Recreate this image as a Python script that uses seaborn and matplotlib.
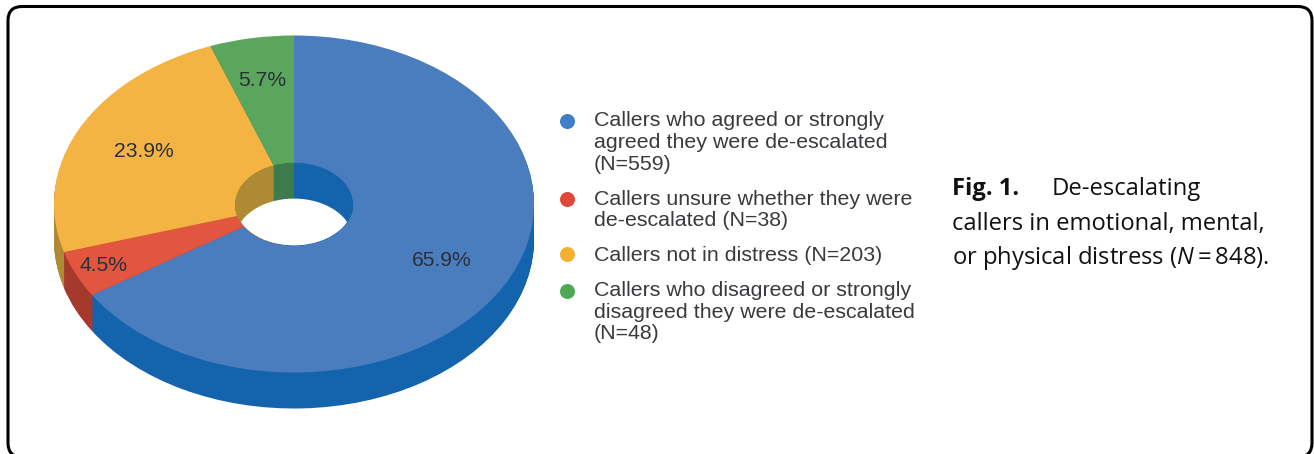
import numpy as np
import matplotlib
matplotlib.use("Agg")
import matplotlib.pyplot as plt
import seaborn as sns
from matplotlib.lines import Line2D
from matplotlib.patches import Circle, FancyBboxPatch
from matplotlib.legend_handler import HandlerLine2D
from matplotlib.transforms import IdentityTransform

# ---- data ----
counts = [559, 38, 203, 48]
labels = [
    "Callers who agreed or strongly\nagreed they were de-escalated\n(N=559)",
    "Callers unsure whether they were\nde-escalated (N=38)",
    "Callers not in distress (N=203)",
    "Callers who disagreed or strongly\ndisagreed they were de-escalated\n(N=48)",
]
top_colors = ["#4a7dbe", "#e2553f", "#f4b443", "#5aa65c"]
side_colors = ["#1463ad", "#a5392b", "#ae8a35", "#3d7a4c"]
legend_colors = ["#3f7fc9", "#e2473d", "#f4b02f", "#4ea956"]
label_radii = [0.70, 0.875, 0.70, 0.745]

# ---- style ----
sns.set_theme(style="white")
plt.rcParams["font.family"] = ["Liberation Sans", "DejaVu Sans"]
plt.rcParams["mathtext.fontset"] = "custom"
plt.rcParams["mathtext.it"] = "Open Sans:italic"
plt.rcParams["mathtext.rm"] = "Open Sans"

W, H = 1314, 454
fig = plt.figure(figsize=(W / 100, H / 100), dpi=100, facecolor="white")
ax = fig.add_axes([0, 0, 1, 1])

# pie geometry in reference pixels
CX, CY, RX, RY, DEPTH, HOLE_RX = 294, 204, 240, 168.5, 36, 59
depth_u = DEPTH / RY
hole_r = HOLE_RX / RX
pie_kw = dict(startangle=90, counterclock=False, wedgeprops=dict(linewidth=0))

# outer rim: layers of the side colour, stacked from the bottom up
for dz in np.linspace(depth_u, 0, DEPTH + 1)[:-1]:
    ax.pie(counts, colors=side_colors, center=(0, -dz), **pie_kw)

# top face
wedges, _, autotexts = ax.pie(
    counts, colors=top_colors, center=(0, 0),
    autopct="%.1f%%", pctdistance=1.0,
    textprops=dict(fontsize=15.2, color="#2b2f3a"), **pie_kw,
)
for t, r in zip(autotexts, label_radii):
    x, y = t.get_position()
    t.set_position((x * r, y * r))

# hole: inner wall stacked downward, bottom opening white, clipped to the top ellipse
hole_clip = Circle((0, 0), hole_r, transform=ax.transData)
for dz in np.linspace(0, depth_u, DEPTH + 1):
    ws, _ = ax.pie(counts, colors=side_colors, center=(0, -dz), radius=hole_r, **pie_kw)
    for w in ws:
        w.set_clip_on(True)
        w.set_clip_path(hole_clip)
floor = Circle((0, -depth_u), hole_r, facecolor="white", edgecolor="none", zorder=5)
ax.add_patch(floor)
floor.set_clip_path(hole_clip)

ax.set_aspect("auto")
ax.set_xlim(-CX / RX, (W - CX) / RX)
ax.set_ylim(-(H - CY) / RY, CY / RY)
ax.axis("off")

# legend
FS = 15.36
LINE_PT = 15.5


class FirstLineHandler(HandlerLine2D):
    def create_artists(self, legend, orig_handle, xdescent, ydescent,
                       width, height, fontsize, trans):
        arts = super().create_artists(legend, orig_handle, xdescent, ydescent,
                                      width, height, fontsize, trans)
        n = orig_handle.get_label().count("\n")
        for a in arts:
            a.set_ydata(np.asarray(a.get_ydata()) + n * LINE_PT / 2)
        return arts


handles = [
    Line2D([], [], marker="o", linestyle="none", color=c, markersize=10.8,
           markeredgewidth=0, label=l)
    for c, l in zip(legend_colors, labels)
]
leg = ax.legend(
    handles=handles, loc="upper left", frameon=False,
    bbox_to_anchor=(555 / W, 1 - 111.5 / H), bbox_transform=fig.transFigure,
    borderpad=0, borderaxespad=0, handlelength=1.12, handletextpad=0.70,
    labelspacing=0.74, fontsize=FS, labelcolor="#3a3a3e", numpoints=1,
    handler_map={Line2D: FirstLineHandler()},
)
for t in leg.get_texts():
    t.set_linespacing(1.18)

# caption
cap = dict(fontsize=17.1, family="Open Sans", color="#111111", va="baseline", ha="left",
           transform=fig.transFigure)
fig.text(952 / W, 1 - 195 / H, "Fig. 1.", fontweight="bold", **cap)
fig.text(1052 / W, 1 - 195 / H, "De-escalating", **cap)
fig.text(952 / W, 1 - 230 / H, "callers in emotional, mental,", **cap)
fig.text(952 / W, 1 - 264 / H, r"or physical distress ($\mathit{N}{=}848$).", **cap)

# rounded panel frame (pixels); its bottom edge falls just below the picture
R = 14
frame = FancyBboxPatch(
    (8 + R, -3 + R), 1304 - 2 * R, 450.5 - 2 * R,
    boxstyle=f"round,pad={R},rounding_size={R}",
    transform=IdentityTransform(), facecolor="none", edgecolor="black", linewidth=2.2,
)
fig.add_artist(frame)

fig.savefig("out.png", dpi=100, facecolor="white")
